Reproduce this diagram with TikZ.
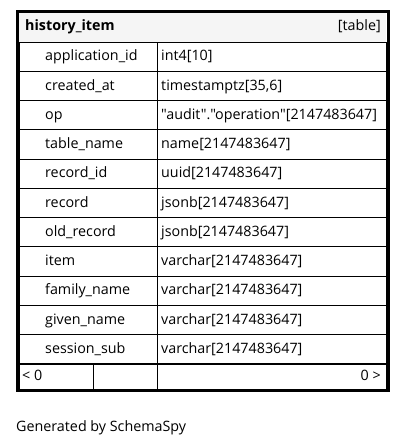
\documentclass[tikz,border=0pt]{standalone}
\usepackage{fontspec}
\setmainfont{Open Sans}[Ligatures=TeXOff]
\begin{document}
\begin{tikzpicture}[x=1pt,y=-1pt,
  cell/.style={draw=black,line width=1pt},
  txt/.style={font=\fontsize{14.3}{16}\selectfont,inner sep=0pt},
  outer/.style={draw=black,line width=3pt}]
\useasboundingbox (0,0) rectangle (405,447);
% header
\fill[gray!8] (19,13) rectangle (386,42);
\node[txt,anchor=mid west,font=\fontsize{14.3}{16}\selectfont\bfseries] (title) at (25,28) {history\_item};
\node[txt,anchor=mid east] (kind) at (381,28) {[table]};
% rows
\def\rh{29.27}
\foreach \n/\t [count=\i from 0] in {
  application\_id/int4[10],
  created\_at/timestamptz[35{,}6],
  op/"audit"."operation"[2147483647],
  table\_name/name[2147483647],
  record\_id/uuid[2147483647],
  record/jsonb[2147483647],
  old\_record/jsonb[2147483647],
  item/varchar[2147483647],
  family\_name/varchar[2147483647],
  given\_name/varchar[2147483647],
  session\_sub/varchar[2147483647]} {
  \pgfmathsetmacro{\ytop}{42+\i*\rh}
  \pgfmathsetmacro{\ybot}{42+(\i+1)*\rh}
  \pgfmathsetmacro{\ymid}{42+(\i+0.5)*\rh+1.5}
  \draw[cell] (19.5,\ytop) rectangle (157,\ybot);
  \draw[cell] (157,\ytop) rectangle (386.5,\ybot);
  \node[txt,anchor=mid west] (name\i) at (45,\ymid) {\n};
  \node[txt,anchor=mid west] (type\i) at (161,\ymid) {\t};
}
% footer
\draw[cell] (19.5,364) rectangle (93,389);
\draw[cell] (93,364) rectangle (157,389);
\draw[cell] (157,364) rectangle (386.5,389);
\node[txt,anchor=mid west] (fl) at (22,377.5) {< 0};
\node[txt,anchor=mid east] (fr) at (381,377.5) {0 >};
% outer
\draw[outer] (17.5,11.5) rectangle (388,390.5);
\node[txt,anchor=mid west] (gen) at (16,428.5) {Generated by SchemaSpy};
\end{tikzpicture}
\end{document}
